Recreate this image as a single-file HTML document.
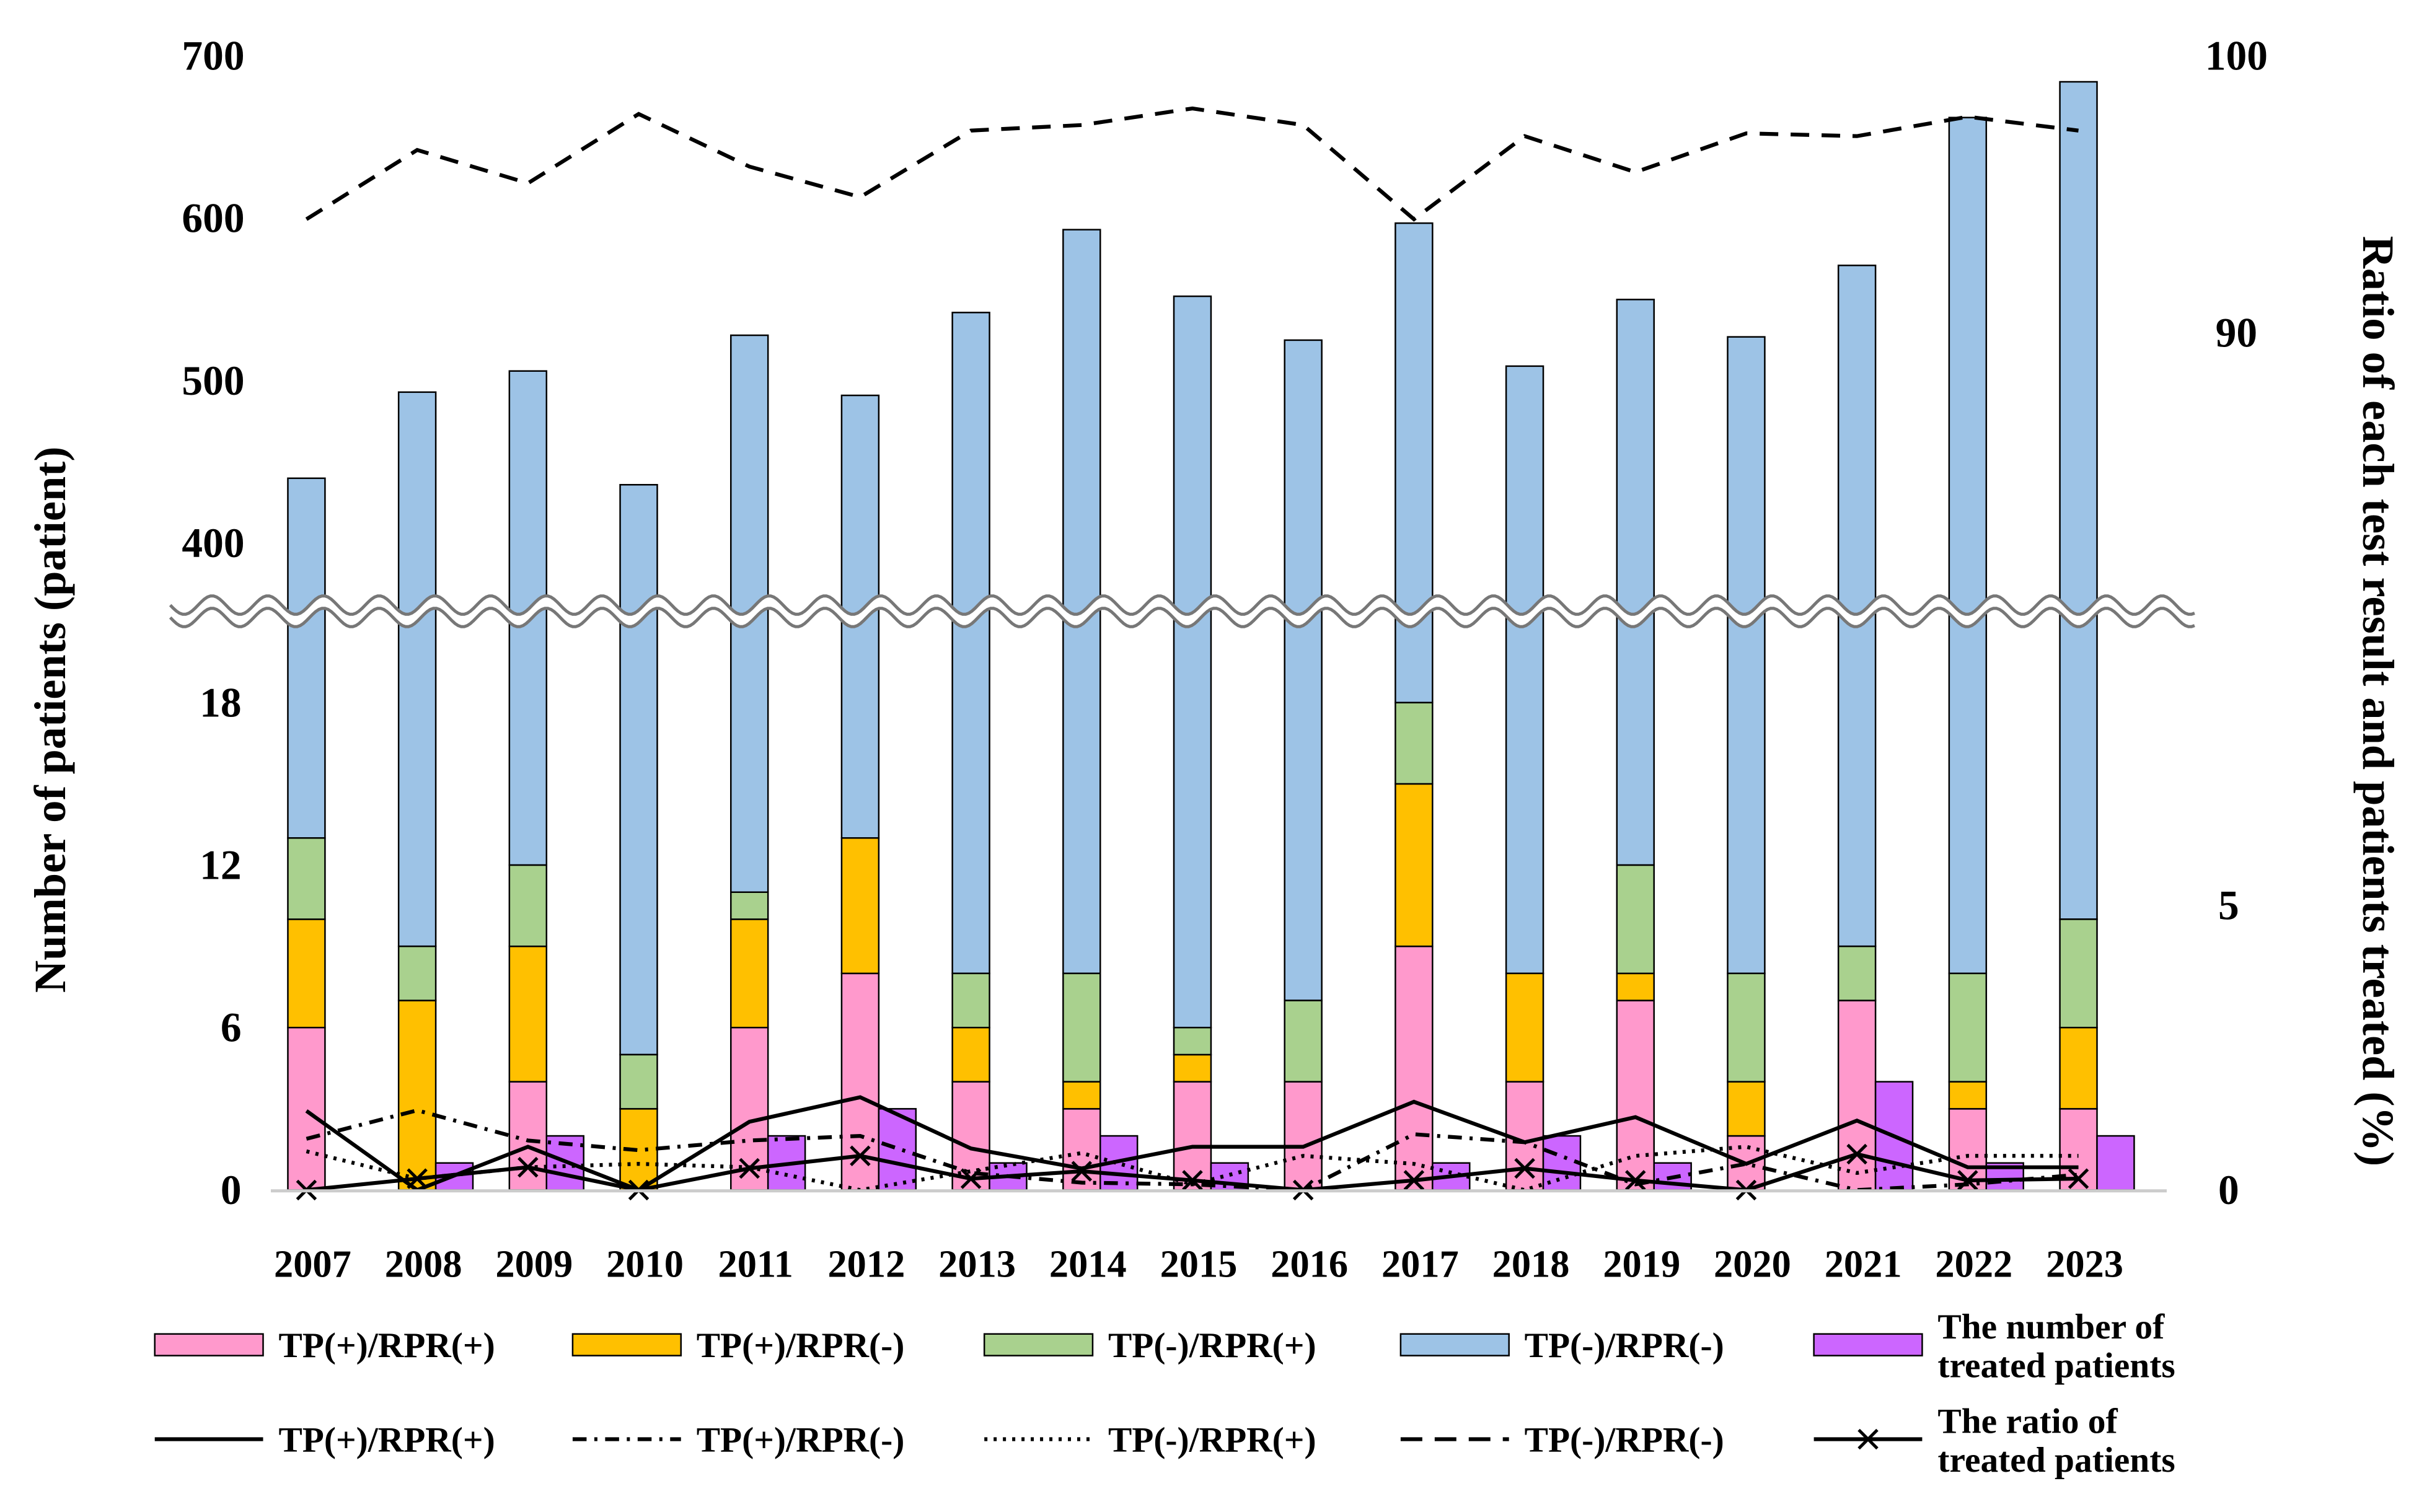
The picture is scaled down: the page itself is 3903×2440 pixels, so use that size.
<!DOCTYPE html>
<html><head><meta charset="utf-8"><style>
html,body{margin:0;padding:0;background:#fff;}
svg{display:block;}
text{font-family:"Liberation Serif",serif;font-weight:bold;fill:#000;}
</style></head><body>
<svg id="chart" width="3903" height="2440" viewBox="0 0 1563 977" xmlns="http://www.w3.org/2000/svg">
<g id="bars"></g>
<g id="lines"></g>
<g id="axes"></g>
<g id="legend"></g>
</svg>
<script>
const years=["2007","2008","2009","2010","2011","2012","2013","2014","2015","2016","2017","2018","2019","2020","2021","2022","2023"];
const tpPosRprPos=[6,0,4,0,6,8,4,3,4,4,9,4,7,2,7,3,3];
const tpPosRprNeg=[4,7,5,3,4,5,2,1,1,0,6,4,1,2,0,1,3];
const tpNegRprPos=[3,2,3,2,1,0,2,4,1,3,3,0,4,4,2,4,4];
const totalPatients=[440,493,506,436,528,491,542,593,552,525,597,509,550,527,571,662,684];
const treatedPatients=[0,1,2,0,2,3,1,2,1,0,1,2,1,0,4,1,2];
const ratioTpPosRprPos=[1.39,0,0.76,0,1.2,1.63,0.73,0.38,0.76,0.76,1.55,0.84,1.28,0.46,1.22,0.4,0.4];
const ratioTpPosRprNeg=[0.9,1.4,0.87,0.7,0.87,0.95,0.3,0.13,0.1,0,0.98,0.84,0.1,0.46,0,0.1,0.27];
const ratioTpNegRprPos=[0.68,0.2,0.4,0.46,0.4,0,0.33,0.65,0.1,0.6,0.46,0,0.6,0.76,0.3,0.6,0.6];
const ratioTpNegRprNeg=[94.1,96.6,95.4,97.9,96.0,94.9,97.3,97.5,98.1,97.5,94.1,97.1,95.8,97.2,97.1,97.8,97.3];
const ratioTreated=[0,0.2,0.4,0,0.38,0.6,0.2,0.33,0.17,0,0.17,0.38,0.17,0,0.63,0.17,0.2];
const leftTicksLow=[0,6,12,18];
const leftTicksHigh=[400,500,600,700];
const rightTicksLow=[0,5];
const rightTicksHigh=[90,100];

const NS="http://www.w3.org/2000/svg";
function mk(tag,attrs,parent){const e=document.createElementNS(NS,tag);for(const k in attrs)e.setAttribute(k,attrs[k]);parent.appendChild(e);return e;}
const BREAK=395;
function x(i){return 198+i*71.56;}
function yL(v){return 769-v*17.5;}
function yU(v){return 351-(v-400)*1.05;}
function yR(v){return v>=50?215-(v-90)*17.9:769-v*36.8;}
const bars=document.getElementById('bars'),lines=document.getElementById('lines'),axes=document.getElementById('axes'),legend=document.getElementById('legend');
const BW=24;
years.forEach((yr,i)=>{
  const cx=x(i),l=cx-BW/2;
  const a=tpPosRprPos[i],b=a+tpPosRprNeg[i],c=b+tpNegRprPos[i];
  const segs=[[0,a,'#ff99cc','pink'],[a,b,'#ffc000','orange'],[b,c,'#a9d18e','green']];
  const blue=mk('rect',{x:l,y:yU(totalPatients[i]),width:BW,height:yL(c)-yU(totalPatients[i]),fill:'#9dc3e6',stroke:'#000','stroke-width':1},bars);
  
  
  segs.forEach(s=>{ if(s[1]>s[0]){
    const r=mk('rect',{x:l,y:yL(s[1]),width:BW,height:yL(s[0])-yL(s[1]),fill:s[2],stroke:'#000','stroke-width':1},bars);
    
    
  }});
  if(treatedPatients[i]>0){
    const p=mk('rect',{x:cx+BW/2,y:yL(treatedPatients[i]),width:BW,height:yL(0)-yL(treatedPatients[i]),fill:'#cc66ff',stroke:'#000','stroke-width':1},bars);
    
    
  }
  const t=mk('text',{x:cx+4,y:825,'font-size':25,'text-anchor':'middle'},axes);t.textContent=yr;
  
  
});
mk('line',{x1:175,y1:769.5,x2:1400,y2:769.5,stroke:'#ccc','stroke-width':2},axes);
let d1='',d2='';
for(let px=110;px<=1418;px+=2){const w=Math.sin((px-110)/36*2*Math.PI)*6;d1+=(px==110?'M':'L')+px+','+(BREAK-4+w);d2+=(px==110?'M':'L')+px+','+(BREAK+4+w);}
mk('path',{d:d1+' '+d2.replace('M','L').split('L').slice(1).reverse().map(s=>'L'+s).join('')+'Z',fill:'#fff',stroke:'none'},axes);
const wv1=mk('path',{d:d1,fill:'none',stroke:'#777','stroke-width':2},axes);


mk('path',{d:d2,fill:'none',stroke:'#777','stroke-width':2},axes);
function poly(vals,dash,name,w){
  const pts=vals.map((v,i)=>x(i)+','+yR(v)).join(' ');
  const p=mk('polyline',{points:pts,fill:'none',stroke:'#000','stroke-width':w||2.5,'stroke-dasharray':dash||'none'},lines);
  
  
}
poly(ratioTpPosRprPos,null,'line-tp-pos-rpr-pos');
poly(ratioTpPosRprNeg,'9,5,2,5','line-tp-pos-rpr-neg');
poly(ratioTpNegRprPos,'2,4','line-tp-neg-rpr-pos');
poly(ratioTpNegRprNeg,'12,8','line-tp-neg-rpr-neg',2.5);
poly(ratioTreated,null,'line-ratio-treated');
ratioTreated.forEach((v,i)=>{const cx=x(i),cy=yR(v);
  const m=mk('path',{d:`M${cx-6},${cy-6}L${cx+6},${cy+6}M${cx+6},${cy-6}L${cx-6},${cy+6}`,stroke:'#000','stroke-width':2},lines);
  
  });
function tk(val,yy,xx,anchor,name){const t=mk('text',{x:xx,y:yy+9,'font-size':27,'text-anchor':anchor},axes);t.textContent=val;
  
  }
leftTicksLow.forEach(v=>tk(v,yL(v),156,'end','y-left-tick-'+v));
leftTicksHigh.forEach(v=>tk(v,yU(v),158,'end','y-left-tick-'+v));
rightTicksLow.forEach(v=>tk(v,yR(v),1440,'middle','y-right-tick-'+v));
rightTicksHigh.forEach(v=>tk(v,yR(v),1445,'middle','y-right-tick-'+v));
let t=mk('text',{x:0,y:0,'font-size':29,'text-anchor':'middle',transform:'translate(42,465) rotate(-90)'},axes);t.textContent='Number of patients (patient)';

t=mk('text',{x:0,y:0,'font-size':29,'text-anchor':'middle',transform:'translate(1527,453) rotate(90)'},axes);t.textContent='Ratio of each test result and patients treated (%)';

const legBars=[[100,'#ff99cc','TP(+)/RPR(+)'],[370,'#ffc000','TP(+)/RPR(-)'],[636,'#a9d18e','TP(-)/RPR(+)'],[905,'#9dc3e6','TP(-)/RPR(-)'],[1172,'#cc66ff','The number of|treated patients']];
legBars.forEach((e,k)=>{
  const r=mk('rect',{x:e[0],y:862,width:70,height:14,fill:e[1],stroke:'#000','stroke-width':1},legend);
  
  const parts=e[2].split('|');
  parts.forEach((s,j)=>{const tt=mk('text',{x:e[0]+80,y:parts.length>1?865+j*25:877,'font-size':23},legend);tt.textContent=s;
    });
});
const legLines=[[100,'none','TP(+)/RPR(+)'],[370,'9,5,2,5','TP(+)/RPR(-)'],[636,'2,4','TP(-)/RPR(+)'],[905,'14,8','TP(-)/RPR(-)'],[1172,'none','The ratio of|treated patients']];
legLines.forEach((e,k)=>{
  const l=mk('line',{x1:e[0],y1:930,x2:e[0]+70,y2:930,stroke:'#000','stroke-width':2.5,'stroke-dasharray':e[1]},legend);
  
  if(k==4)mk('path',{d:`M1201,924L1213,936M1213,924L1201,936`,stroke:'#000','stroke-width':2},legend);
  const parts=e[2].split('|');
  parts.forEach((s,j)=>{const tt=mk('text',{x:e[0]+80,y:parts.length>1?926+j*25:938,'font-size':23},legend);tt.textContent=s;
    });
});
</script>
</body></html>
